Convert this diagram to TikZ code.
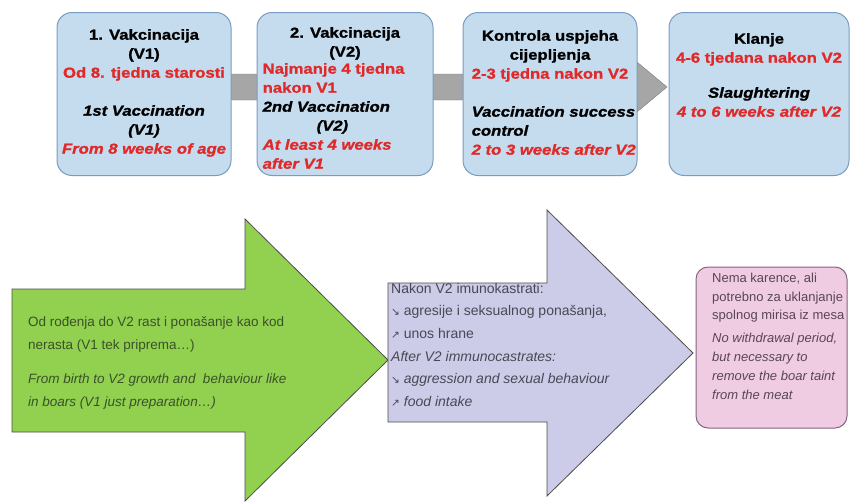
\documentclass[tikz,border=0pt]{standalone}
\usepackage{fontspec}
\setmainfont{Liberation Sans}
\newfontfamily\heavyfont{Liberation Sans}[FakeStretch=1.15,
  BoldFeatures={FakeBold=1.2}, BoldItalicFeatures={FakeBold=1.2}]
\newfontfamily\symfont{DejaVu Sans}
\usetikzlibrary{positioning,calc}

\definecolor{boxblue}{RGB}{197,220,239}
\definecolor{boxedge}{RGB}{122,156,192}
\definecolor{bargray}{RGB}{166,166,166}
\definecolor{baredge}{RGB}{125,125,125}
\definecolor{txtred}{RGB}{224,42,42}
\definecolor{arrgreen}{RGB}{146,208,80}
\definecolor{greentxt}{RGB}{58,82,40}
\definecolor{arrlilac}{RGB}{204,204,232}
\definecolor{lilactxt}{RGB}{72,72,86}
\definecolor{boxpink}{RGB}{240,204,226}
\definecolor{pinkedge}{RGB}{130,100,128}
\definecolor{pinktxt}{RGB}{88,70,88}

\newcommand{\redtxt}[1]{{\color{txtred}#1}}
\newcommand{\dn}{{\symfont\fontsize{10.5}{10}\selectfont ↘}}
\newcommand{\up}{{\symfont\fontsize{10.5}{10}\selectfont ↗}}

\begin{document}
\begin{tikzpicture}[
		x=1pt, y=-1pt,
		topbox/.style={rectangle, rounded corners=15pt, draw=boxedge, fill=boxblue,
			line width=1pt, inner sep=0pt, minimum height=163pt},
		toptext/.style={inner sep=0pt, font=\heavyfont\bfseries\fontsize{14.5}{19}\selectfont},
		bigarrow/.style={draw=black!70, line width=0.8pt},
		lowtext/.style={inner sep=0pt, align=left}
	]
  \useasboundingbox (0,0) rectangle (850,501);
  % gray bar behind the four boxes
  \coordinate (barstart) at (226,87);
  \coordinate (bartip) at (667,87);
  \fill[bargray, draw=baredge] ($(barstart)+(0,-13)$) -- ($(bartip)+(-30,-13)$)
    -- ($(bartip)+(-30,-25)$) -- (bartip) -- ($(bartip)+(-30,25)$)
    -- ($(bartip)+(-30,13)$) -- ($(barstart)+(0,13)$) -- cycle;
  % the four boxes
  \node (v1) [topbox, minimum width=174pt] at (144,94) {};
  \node (v2) [topbox, minimum width=176pt] at (345,94) {};
  \node (ctrl) [topbox, minimum width=174pt] at (550,94) {};
  \node (kl) [topbox, minimum width=180pt] at (759,94) {};
  \node (v1txt) [toptext, align=center, anchor=north] at ([yshift=-17pt]v1.north)
    {1. Vakcinacija\\(V1)\\\redtxt{Od 8. tjedna starosti}\\[19pt]
     \textit{1st Vaccination}\\\textit{(V1)}\\\redtxt{\textit{From 8 weeks of age}}};
  \node (v2head) [toptext, align=center, anchor=north] at ([yshift=-15pt]v2.north)
    {2. Vakcinacija\\(V2)};
  \node (v2body) [toptext, align=left, anchor=north west] at ([xshift=6pt,yshift=-51pt]v2.north west)
    {\redtxt{Najmanje 4 tjedna}\\\redtxt{nakon V1}\\\textit{2nd Vaccination}\\
     \hspace*{54pt}\textit{(V2)}\\\redtxt{\textit{At least 4 weeks}}\\\redtxt{\textit{after V1}}};
  \node (ctrlhead) [toptext, align=center, anchor=north] at ([yshift=-18pt]ctrl.north)
    {Kontrola uspjeha\\cijepljenja\\\redtxt{2-3 tjedna nakon V2}};
  \node (ctrlbody) [toptext, align=left, anchor=north west] at ([xshift=9pt,yshift=-94pt]ctrl.north west)
    {\textit{Vaccination success}\\\textit{control}\\\redtxt{\textit{2 to 3 weeks after V2}}};
  \node (kltxt) [toptext, align=center, anchor=north] at ([yshift=-21pt]kl.north)
    {Klanje\\\redtxt{4-6 tjedana nakon V2}\\[16pt]
     \textit{Slaughtering}\\\redtxt{\textit{4 to 6 weeks after V2}}};
  % big arrows at the bottom
  \filldraw[bigarrow, fill=arrgreen] (12,289) -- (245,289) -- (245,219) -- (388,360)
    -- (245,501) -- (245,432) -- (12,432) -- cycle;
  \filldraw[bigarrow, fill=arrlilac] (388,283) -- (547,283) -- (547,210) -- (693,353)
    -- (547,496) -- (547,422) -- (388,422) -- cycle;
  \node (growth) [lowtext, anchor=north west, text=greentxt,
    font=\fontsize{13.5}{23}\selectfont] at (28,316)
    {Od rođenja do V2 rast i ponašanje kao kod\\nerasta (V1 tek priprema…)};
  \node (growthen) [lowtext, anchor=north west, text=greentxt,
    font=\itshape\fontsize{13.5}{23}\selectfont] at (28,374)
    {From birth to V2 growth and \ behaviour like\\in boars (V1 just preparation…)};
  \node (immuno) [lowtext, anchor=north west, text=lilactxt,
    font=\fontsize{14}{22.6}\selectfont] at (391,283)
    {Nakon V2 imunokastrati:\\\dn\ agresije i seksualnog ponašanja,\\\up\ unos hrane\\
     \textit{After V2 immunocastrates:}\\\dn\ \textit{aggression and sexual behaviour}\\
     \up\ \textit{food intake}};
  % pink box on the right
  \node (taint) [rectangle, rounded corners=12pt, draw=pinkedge, fill=boxpink, line width=1pt,
    minimum width=151pt, minimum height=161pt] at (771.5,347.5) {};
  \node (tainthr) [lowtext, anchor=north west, text=pinktxt,
    font=\fontsize{13}{18.5}\selectfont] at (712,273)
    {Nema karence, ali\\potrebno za uklanjanje\\spolnog mirisa iz mesa};
  \node (tainten) [lowtext, anchor=north west, text=pinktxt,
    font=\itshape\fontsize{13}{19}\selectfont] at (712,333)
    {No withdrawal period,\\but necessary to\\remove the boar taint\\from the meat};
\end{tikzpicture}
\end{document}
